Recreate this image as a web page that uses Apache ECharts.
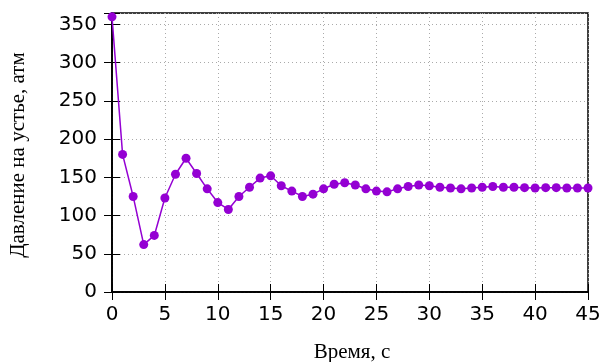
<!DOCTYPE html>
<html><head><meta charset="utf-8">
<script src="https://cdn.jsdelivr.net/npm/echarts@6/dist/echarts.min.js"></script>
<style>html,body{margin:0;padding:0;background:#fff}#c{width:604px;height:362px}</style>
</head><body><div id="c"></div>
<script>
const times = [0,1,2,3,4,5,6,7,8,9,10,11,12,13,14,15,16,17,18,19,20,21,22,23,24,25,26,27,28,29,30,31,32,33,34,35,36,37,38,39,40,41,42,43,44,45];
const pressure = [360,180,125,62,74,123,154,175,155,135,117,108,125,137,149,152,139,132,125,128,135,141,143,140,135,132,131,135,138,140,139,137,136,135,136,137,138,137,137,136.5,136,136.5,136.5,136,136,136];
const xLabel = 'Время, с';
const yLabel = 'Давление на устье, атм';

const chart = echarts.init(document.getElementById('c'), null, {renderer:'canvas'});
const tickFont = {fontFamily:'DejaVu Sans', fontSize:20, color:'#000'};
const axLine = {show:true, lineStyle:{color:'#000', width:1.5}};
const tick = {show:true, inside:true, length:8, lineStyle:{color:'#000', width:1}};
const split = {show:true, lineStyle:{color:'#aaaaaa', type:[1,3], width:1}};
chart.setOption({
  animation:false,
  grid:{left:112, right:16, top:13, bottom:70, show:true, borderColor:'#000', borderWidth:1.5},
  xAxis:[
    {type:'value', min:0, max:45, interval:5, position:'bottom',
     axisLine:axLine, axisTick:tick,
     axisLabel:Object.assign({margin:13}, tickFont), splitLine:split},
    {type:'value', min:0, max:45, interval:5, position:'top',
     axisLine:axLine, axisTick:tick,
     axisLabel:{show:false}, splitLine:{show:false}}
  ],
  yAxis:[
    {type:'value', min:0, max:365, interval:50, position:'left',
     axisLine:axLine, axisTick:tick,
     axisLabel:Object.assign({margin:15, formatter:v => (v % 50 === 0 ? String(v) : '')}, tickFont),
     splitLine:split},
    {type:'value', min:0, max:365, interval:50, position:'right',
     axisLine:axLine, axisTick:tick,
     axisLabel:{show:false}, splitLine:{show:false}}
  ],
  graphic:[
    {type:'text', x:352, y:342, style:{text:xLabel, font:'21px "Liberation Serif"', fill:'#000', align:'center', verticalAlign:'top'}},
    {type:'text', x:18, y:155, rotation:Math.PI/2, style:{text:yLabel, font:'21px "Liberation Serif"', fill:'#000', align:'center', verticalAlign:'middle'}}
  ],
  series:[{
    type:'line', data:times.map((t,i)=>[t, pressure[i]]),
    symbol:'circle', symbolSize:9, showAllSymbol:true,
    lineStyle:{color:'#9400D3', width:1.5},
    itemStyle:{color:'#9400D3'}, clip:false
  }]
});
</script></body></html>
